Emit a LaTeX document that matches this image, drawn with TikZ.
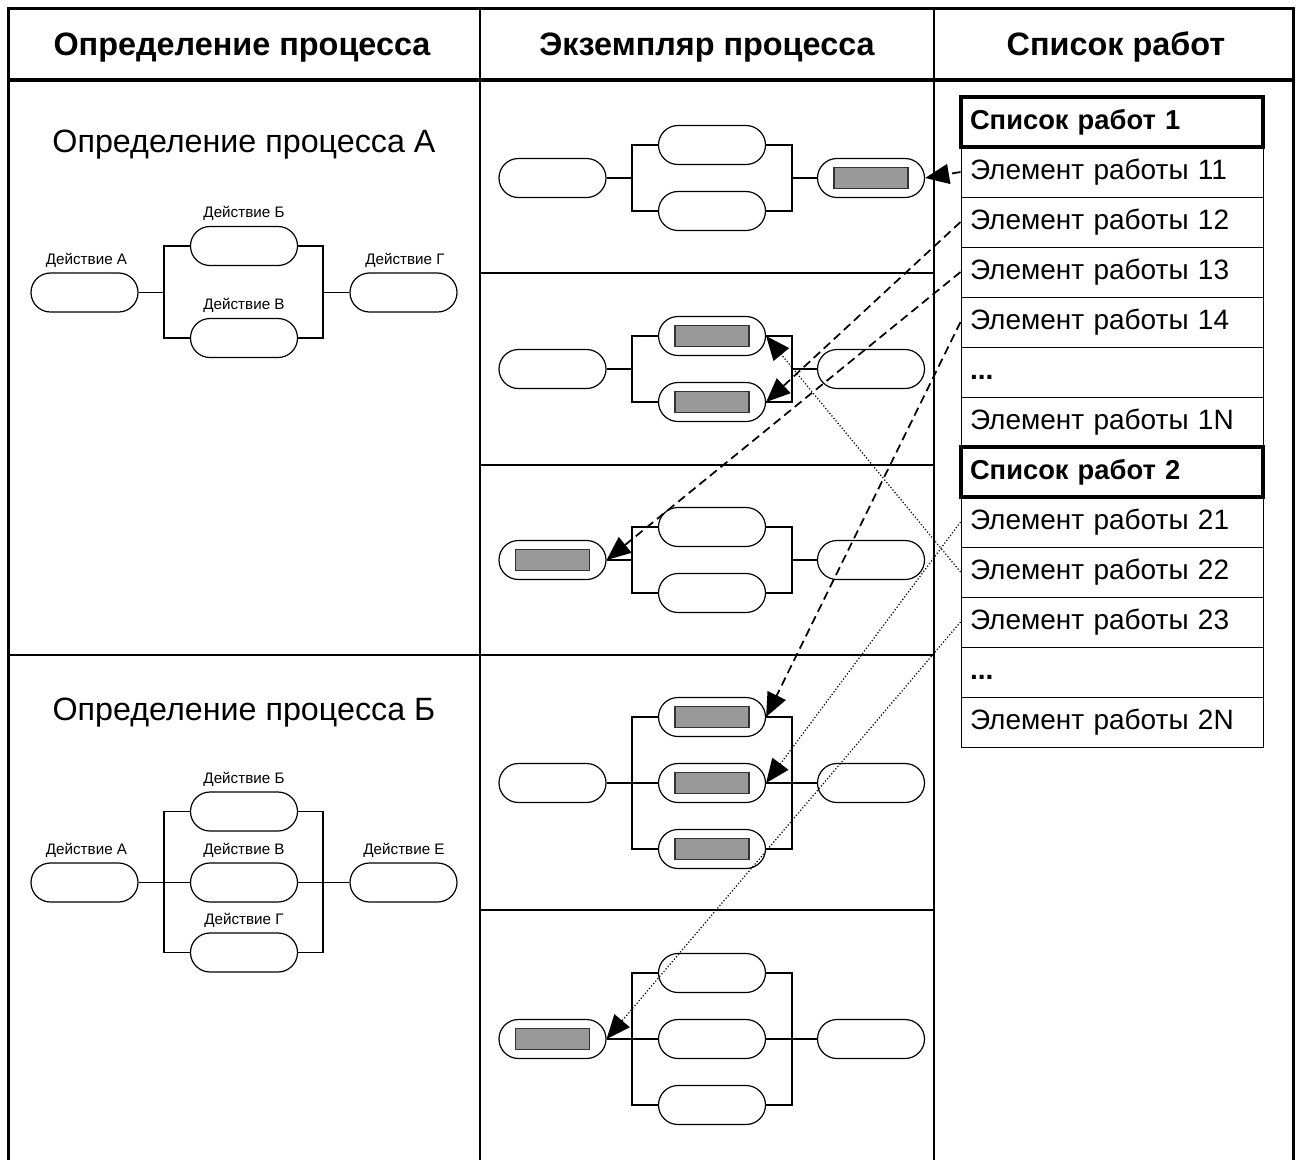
\documentclass[tikz,border=0pt]{standalone}
\usepackage{fontspec}
\setmainfont{Liberation Sans}
\usetikzlibrary{arrows.meta}

% process element: a pill, optionally carrying a grey work slot
\newcommand\pl[3]{\node[pill] (#1) at (#2,#3) {};}
\newcommand\pls[3]{\node[pill] (#1) at (#2,#3) {};\node[slot] (#1s) at (#1) {};}

\begin{document}
\begin{tikzpicture}[x=0.75pt,y=-0.75pt,
  pill/.style={draw,line width=0.9pt,rounded corners=14.6pt,minimum width=80.25pt,
    minimum height=29.25pt,inner sep=0pt,fill=white},
  slot/.style={draw=black!80,line width=0.9pt,fill=black!40,minimum width=55.5pt,
    minimum height=15.75pt,inner sep=0pt},
  wire/.style={line width=0.9pt},
  grid/.style={line width=1.9pt},
  headtext/.style={font=\fontsize{24.3}{28}\selectfont\bfseries,anchor=base},
  titletext/.style={font=\fontsize{24.2}{28}\selectfont,anchor=base},
  actlabel/.style={font=\fontsize{11.4}{13}\selectfont,anchor=base},
  cell/.style={draw,line width=0.75pt,minimum height=37.5pt,text width=213pt,
    inner xsep=6.75pt,inner ysep=0pt,align=left,font=\fontsize{21}{24}\selectfont,
    text height=15pt,text depth=4pt},
  listhead/.style={cell,line width=3pt,font=\fontsize{20.5}{24}\selectfont\bfseries},
  dashline/.style={line width=1.3pt,dash pattern=on 6.5pt off 3.75pt,
    -{Triangle[length=18pt,width=15pt]}},
  dotline/.style={line width=0.9pt,dash pattern=on 0.9pt off 1.5pt,
    -{Triangle[length=18pt,width=15pt]}}]

\path[use as bounding box] (0,0) rectangle (1300,1160);
\clip (0,0) rectangle (1300,1160);

% ---------- table frame ----------
\draw[line width=2.25pt] (8,8) rectangle (1293,1172);
\draw[grid] (480,8) -- (480,1172);
\draw[grid] (934,8) -- (934,1172);
\draw[line width=3.4pt] (8,80) -- (1293,80);
\draw[grid] (480,273) -- (934,273);
\draw[grid] (480,465) -- (934,465);
\draw[grid] (8,655) -- (934,655);
\draw[grid] (480,910) -- (934,910);

\node[headtext] (h1) at (242,55) {Определение процесса};
\node[headtext] (h2) at (707,55) {Экземпляр процесса};
\node[headtext] (h3) at (1116,55) {Список работ};

% ---------- process definition A ----------
\node[titletext] (tA) at (244,152) {Определение процесса А};
\pl{dAa}{84.5}{292.5} \pl{dAb}{244}{246} \pl{dAc}{244}{338} \pl{dAd}{403.5}{292.5}
\node[actlabel] (lAa) at (86.5,264) {Действие А};
\node[actlabel] (lAb) at (244,217.5) {Действие Б};
\node[actlabel] (lAc) at (244,309.5) {Действие В};
\node[actlabel] (lAd) at (405,264) {Действие Г};
\coordinate (dAj) at (164,292.5);
\coordinate (dAk) at (323,292.5);
\draw[wire] (dAa.east) -- (dAj);
\draw[wire] (dAb.west) -| (dAj) |- (dAc.west);
\draw[wire] (dAb.east) -| (dAk) |- (dAc.east);
\draw[wire] (dAk) -- (dAd.west);

% ---------- process definition B ----------
\node[titletext] (tB) at (244,720) {Определение процесса Б};
\pl{dBa}{84.5}{882.5} \pl{dBb}{244}{811.5} \pl{dBm}{244}{882.5} \pl{dBc}{244}{952.5} \pl{dBd}{403.5}{882.5}
\node[actlabel] (lBa) at (86.5,854) {Действие А};
\node[actlabel] (lBb) at (244,783) {Действие Б};
\node[actlabel] (lBm) at (244,854) {Действие В};
\node[actlabel] (lBc) at (244,924) {Действие Г};
\node[actlabel] (lBd) at (404,854) {Действие Е};
\coordinate (dBj) at (164,882.5);
\coordinate (dBk) at (323,882.5);
\draw[wire] (dBa.east) -- (dBm.west);
\draw[wire] (dBm.east) -- (dBd.west);
\draw[wire] (dBb.west) -| (dBj) |- (dBc.west);
\draw[wire] (dBb.east) -| (dBk) |- (dBc.east);

% ---------- process instances ----------
% instance 1
\pl{i1a}{552.5}{178} \pl{i1b}{712}{145} \pl{i1c}{712}{211} \pls{i1d}{871}{178}
\coordinate (i1j) at (632,178); \coordinate (i1k) at (792,178);
\draw[wire] (i1a.east) -- (i1j);
\draw[wire] (i1b.west) -| (i1j) |- (i1c.west);
\draw[wire] (i1b.east) -| (i1k) |- (i1c.east);
\draw[wire] (i1k) -- (i1d.west);
% instance 2
\pl{i2a}{552.5}{369} \pls{i2b}{712}{336} \pls{i2c}{712}{402} \pl{i2d}{871}{369}
\coordinate (i2j) at (632,369); \coordinate (i2k) at (792,369);
\draw[wire] (i2a.east) -- (i2j);
\draw[wire] (i2b.west) -| (i2j) |- (i2c.west);
\draw[wire] (i2b.east) -| (i2k) |- (i2c.east);
\draw[wire] (i2k) -- (i2d.west);
% instance 3
\pls{i3a}{552.5}{560} \pl{i3b}{712}{527} \pl{i3c}{712}{593} \pl{i3d}{871}{560}
\coordinate (i3j) at (632,560); \coordinate (i3k) at (792,560);
\draw[wire] (i3a.east) -- (i3j);
\draw[wire] (i3b.west) -| (i3j) |- (i3c.west);
\draw[wire] (i3b.east) -| (i3k) |- (i3c.east);
\draw[wire] (i3k) -- (i3d.west);
% instance 4
\pl{i4a}{552.5}{783} \pls{i4b}{712}{717} \pls{i4m}{712}{783} \pls{i4c}{712}{849} \pl{i4d}{871}{783}
\coordinate (i4j) at (632,783); \coordinate (i4k) at (792,783);
\draw[wire] (i4a.east) -- (i4m.west);
\draw[wire] (i4m.east) -- (i4d.west);
\draw[wire] (i4b.west) -| (i4j) |- (i4c.west);
\draw[wire] (i4b.east) -| (i4k) |- (i4c.east);
% instance 5
\pls{i5a}{552.5}{1039} \pl{i5b}{712}{973} \pl{i5m}{712}{1039} \pl{i5c}{712}{1105} \pl{i5d}{871}{1039}
\coordinate (i5j) at (632,1039); \coordinate (i5k) at (792,1039);
\draw[wire] (i5a.east) -- (i5m.west);
\draw[wire] (i5m.east) -- (i5d.west);
\draw[wire] (i5b.west) -| (i5j) |- (i5c.west);
\draw[wire] (i5b.east) -| (i5k) |- (i5c.east);

% ---------- work lists ----------
\node[cell] (w11) at (1112,172) {Элемент работы 11};
\node[cell] (w12) at (1112,222) {Элемент работы 12};
\node[cell] (w13) at (1112,272) {Элемент работы 13};
\node[cell] (w14) at (1112,322) {Элемент работы 14};
\node[cell,font=\fontsize{21}{24}\selectfont\bfseries] (w1d) at (1112,372) {...};
\node[cell] (w1N) at (1112,422) {Элемент работы 1N};
\node[cell] (w21) at (1112,522) {Элемент работы 21};
\node[cell] (w22) at (1112,572) {Элемент работы 22};
\node[cell] (w23) at (1112,622) {Элемент работы 23};
\node[cell,font=\fontsize{21}{24}\selectfont\bfseries] (w2d) at (1112,672) {...};
\node[cell] (w2N) at (1112,722) {Элемент работы 2N};
\node[listhead] (L1) at (1112,122) {Список работ 1};
\node[listhead] (L2) at (1112,472) {Список работ 2};

% ---------- assignments of work items ----------
\draw[dashline] (w11.west) -- (i1d.east);
\draw[dashline] (w12.west) -- (i2c.east);
\draw[dashline] (w13.west) -- (i3a.east);
\draw[dashline] (w14.west) -- (i4b.east);
\draw[dotline] (w21.west) -- (i4m.east);
\draw[dotline] (w22.west) -- (i2b.east);
\draw[dotline] (w23.west) -- (i5a.east);
\end{tikzpicture}
\end{document}
